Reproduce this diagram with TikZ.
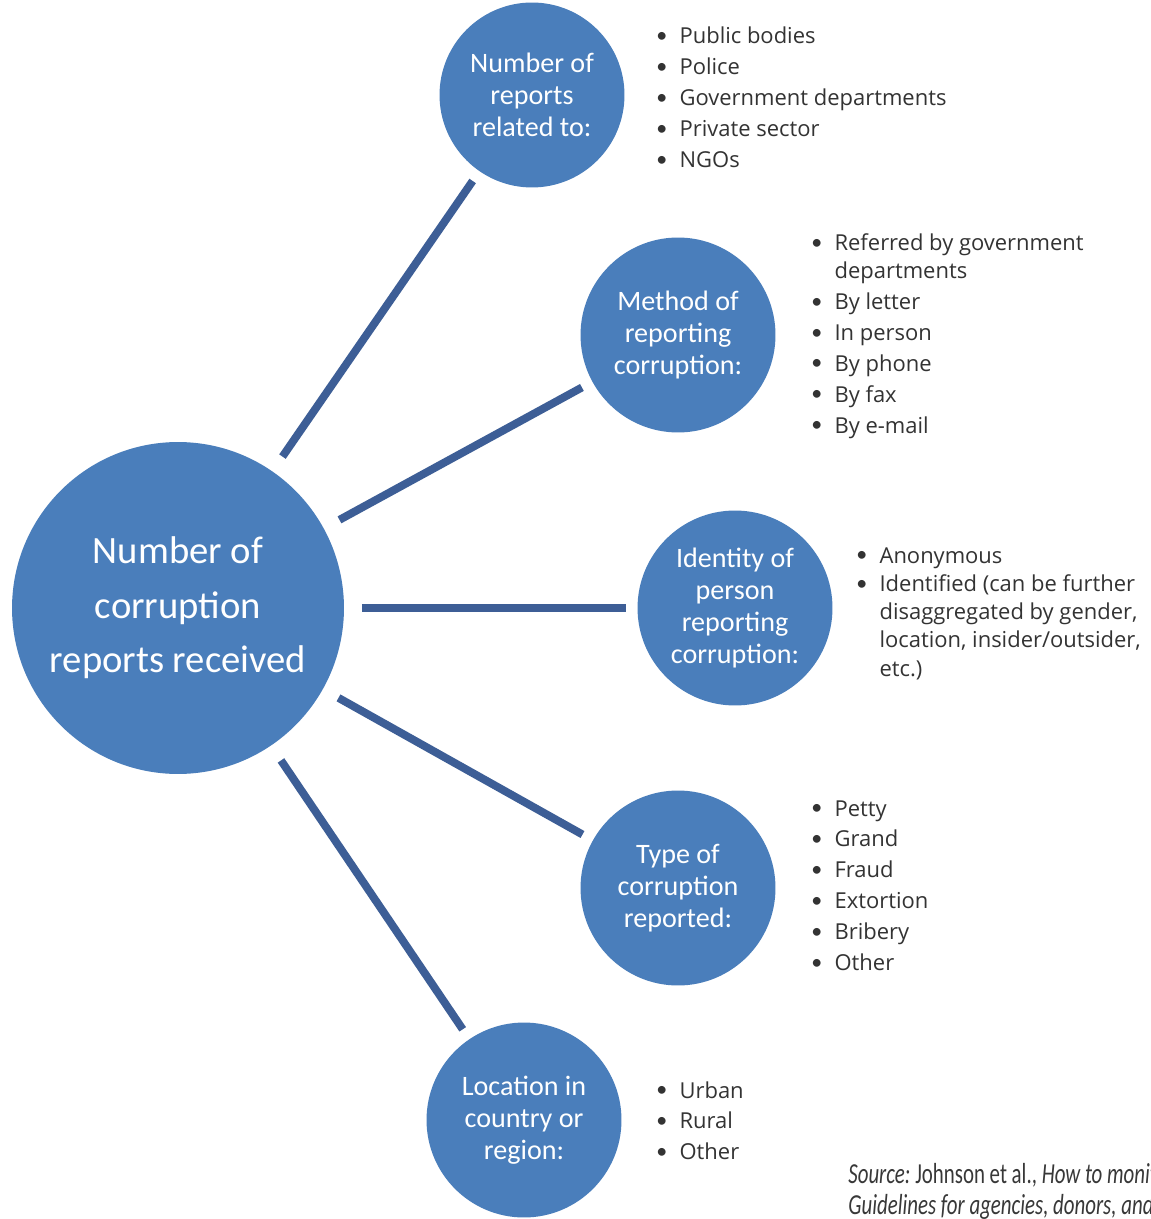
\documentclass[tikz,border=0pt]{standalone}
\usepackage{fontspec}
\setmainfont{Open Sans}
\newfontfamily\circfont{Carlito}
\newfontfamily\srcfont[FakeStretch=0.72]{Carlito}
\usetikzlibrary{positioning}
\definecolor{hubblue}{HTML}{4A7EBB}
\definecolor{spokeblue}{HTML}{3D5E96}
\definecolor{listgray}{HTML}{333333}
\definecolor{srcgray}{HTML}{383838}
\newcommand{\bul}{\raisebox{0.1ex}{\circfont\textbullet}}

\begin{document}
\begin{tikzpicture}[x=0.02cm,y=-0.02cm,
  hub/.style={circle,fill=hubblue,text=white,inner sep=0pt,outer sep=0pt,align=center},
  bighub/.style={hub,minimum size=6.64cm,font=\circfont\fontsize{22}{31}\selectfont},
  subhub/.style={hub,minimum size=3.9cm,font=\circfont\fontsize{16}{18.2}\selectfont},
  spoke/.style={line width=4.5pt,spokeblue,shorten <=0.36cm,shorten >=0.24cm},
  items/.style={anchor=north west,inner sep=0pt,text=listgray,font=\fontsize{12.5}{17.6}\selectfont},
  srcline/.style={anchor=base west,inner sep=0pt,text=srcgray,font=\srcfont\fontsize{16.5}{18}\selectfont}]
\useasboundingbox (0,0) rectangle (1151,1219);
\fill[white] (0,0) rectangle (1151,1219);
\clip (0,0) rectangle (1151,1219);

% circles
\node[bighub] (hub) at (178,608) {Number of\\corruption\\reports received};
\node[subhub,minimum size=3.7cm] (related) at (532,95) {Number of\\reports\\related to:};
\node[subhub] (method) at (678,335) {Method of\\reporting\\corruption:};
\node[subhub] (identity) at (735,608) {Identity of\\person\\reporting\\corruption:};
\node[subhub] (type) at (678,888) {Type of\\corruption\\reported:};
\node[subhub] (location) at (524,1120) {Location in\\country or\\region:};

% spokes
\draw[spoke] (hub) -- (related);
\draw[spoke] (hub) -- (method);
\draw[spoke] (hub) -- (identity);
\draw[spoke] (hub) -- (type);
\draw[spoke] (hub) -- (location);

% lists
\node[items] (relatedlist) at (656,22) {\begin{tabular}{@{}l@{\hspace{7pt}}l@{}}
  \bul & Public bodies\\
  \bul & Police\\
  \bul & Government departments\\
  \bul & Private sector\\
  \bul & NGOs
\end{tabular}};
\node[items] (methodlist) at (811,229) {\begin{tabular}{@{}l@{\hspace{7pt}}l@{}}
  \bul & Referred by government\\[-2pt]
       & departments\\
  \bul & By letter\\
  \bul & In person\\
  \bul & By phone\\
  \bul & By fax\\
  \bul & By e-mail
\end{tabular}};
\node[items] (identitylist) at (856,541) {\begin{tabular}{@{}l@{\hspace{7pt}}l@{}}
  \bul & Anonymous\\[-1.5pt]
  \bul & Identified (can be further\\[-1.5pt]
       & disaggregated by gender,\\[-1.5pt]
       & location, insider/outsider,\\[-1.5pt]
       & etc.)
\end{tabular}};
\node[items] (typelist) at (811,794) {\begin{tabular}{@{}l@{\hspace{7pt}}l@{}}
  \bul & Petty\\
  \bul & Grand\\
  \bul & Fraud\\
  \bul & Extortion\\
  \bul & Bribery\\
  \bul & Other
\end{tabular}};
\node[items] (locationlist) at (656,1076) {\begin{tabular}{@{}l@{\hspace{7pt}}l@{}}
  \bul & Urban\\
  \bul & Rural\\
  \bul & Other
\end{tabular}};

% source
\node[srcline] (src1) at (848,1183) {\textit{Source:}\,Johnson et al., \textit{How to monitor}};
\node[srcline] (src2) at (848,1214) {\textit{Guidelines for agencies, donors, and evaluators}};
\end{tikzpicture}
\end{document}
